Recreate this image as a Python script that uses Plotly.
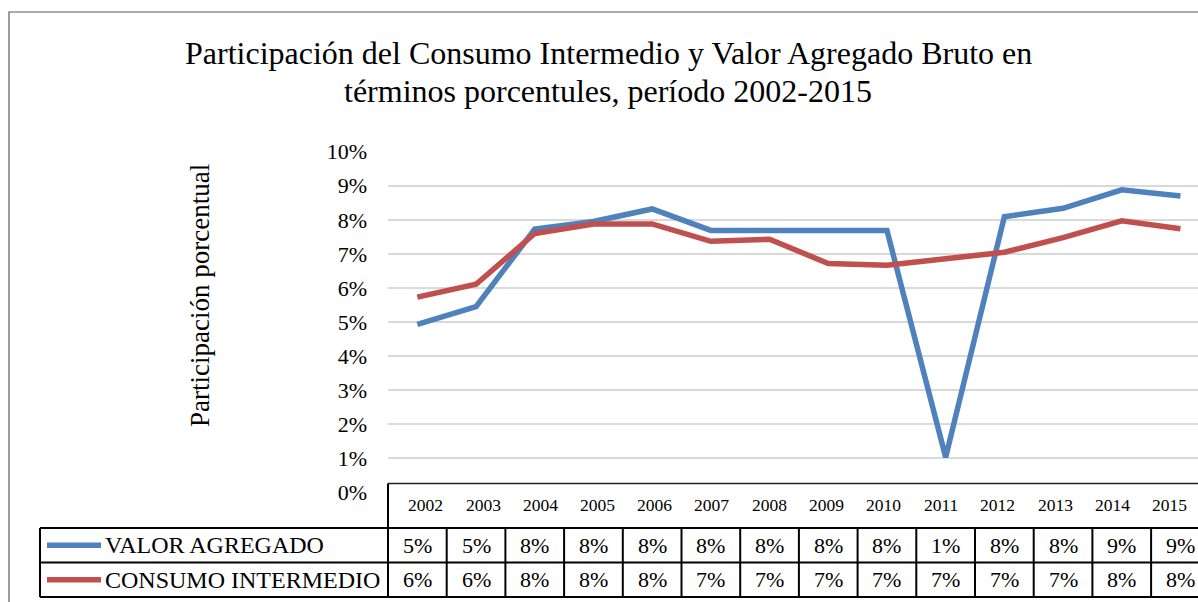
import plotly.graph_objects as go

W, H = 1198, 602

years = ["2002", "2003", "2004", "2005", "2006", "2007", "2008",
         "2009", "2010", "2011", "2012", "2013", "2014", "2015"]
valor_agregado = [0.0493, 0.0545, 0.0773, 0.0795, 0.0832, 0.0769, 0.0769,
                  0.0768, 0.0769, 0.0103, 0.0809, 0.0834, 0.0888, 0.0870]
consumo_intermedio = [0.0573, 0.0611, 0.0760, 0.0788, 0.0788, 0.0737, 0.0743,
                      0.0672, 0.0667, 0.0687, 0.0705, 0.0748, 0.0797, 0.0774]
series_names = ["VALOR AGREGADO", "CONSUMO INTERMEDIO"]
series_colors = ["#4F81BD", "#C0504D"]
title_lines = ["Participación del Consumo Intermedio y Valor Agregado Bruto en",
               "términos porcentules, período 2002-2015"]
y_title = "Participación porcentual"

FONT = "Liberation Serif, Times New Roman, serif"

def px(x):
    return x / W

def py(y):
    return 1 - y / H

# layout geometry (pixels of the 1198x602 design)
PLOT_L = 388
COL_W = 58.7
Y0_PIX, Y10_PIX = 492.4, 151.7
TBL_TOP, ROW1, ROW2, TBL_BOT = 483.5, 528, 562.5, 597
LEG_L = 40
YEAR_X0, YEAR_STEP = 425.8, 57.2

x_end = -0.5 + (W - PLOT_L) / COL_W

fig = go.Figure()
for name, vals, col in zip(series_names, [valor_agregado, consumo_intermedio], series_colors):
    fig.add_trace(go.Scatter(x=list(range(len(years))), y=vals, mode="lines", name=name,
                             line=dict(color=col, width=5.5), showlegend=False,
                             hoverinfo="skip"))

shapes = []
# outer frame
shapes.append(dict(type="rect", xref="paper", yref="paper", x0=px(9), x1=1.05,
                   y0=-0.05, y1=py(12), line=dict(color="#5a5a5a", width=1.2),
                   fillcolor="rgba(0,0,0,0)", layer="above"))
# white header cell (covers 0% gridline)
shapes.append(dict(type="rect", xref="paper", yref="paper", x0=px(PLOT_L), x1=1.02,
                   y0=py(ROW1), y1=py(TBL_TOP), line=dict(width=0),
                   fillcolor="white", layer="above"))
line_style = dict(color="black", width=2)
shapes.append(dict(type="line", xref="paper", yref="paper", x0=px(PLOT_L), x1=1.02,
                   y0=py(TBL_TOP), y1=py(TBL_TOP), line=dict(color="#222", width=1.5), layer="above"))
shapes.append(dict(type="line", xref="paper", yref="paper", x0=px(PLOT_L), x1=px(PLOT_L),
                   y0=py(TBL_BOT), y1=py(TBL_TOP), line=line_style, layer="above"))
for yy in [ROW1, ROW2, TBL_BOT]:
    shapes.append(dict(type="line", xref="paper", yref="paper", x0=px(LEG_L), x1=1.02,
                       y0=py(yy), y1=py(yy), line=line_style, layer="above"))
shapes.append(dict(type="line", xref="paper", yref="paper", x0=px(LEG_L), x1=px(LEG_L),
                   y0=py(TBL_BOT), y1=py(ROW1), line=line_style, layer="above"))
for k in range(len(years) - 1):
    xp = px(PLOT_L + (k + 1) * COL_W)
    shapes.append(dict(type="line", xref="paper", yref="paper", x0=xp, x1=xp,
                       y0=py(TBL_BOT), y1=py(ROW1), line=line_style, layer="above"))

annotations = []
for i, t in enumerate(title_lines):
    annotations.append(dict(text=t, xref="paper", yref="paper", x=px(608), y=py(52.5 + 39 * i),
                            xanchor="center", yanchor="middle", showarrow=False,
                            font=dict(family=FONT, size=32, color="black")))
annotations.append(dict(text=y_title, xref="paper", yref="paper", x=px(200), y=py(296),
                        textangle=-90, xanchor="center", yanchor="middle", showarrow=False,
                        font=dict(family=FONT, size=27, color="black")))
for k, yr in enumerate(years):
    annotations.append(dict(text=yr, xref="paper", yref="paper",
                            x=px(YEAR_X0 + k * YEAR_STEP), y=py(505),
                            xanchor="center", yanchor="middle", showarrow=False,
                            font=dict(family=FONT, size=17.5, color="black")))
rows_y = [(ROW1 + ROW2) / 2, (ROW2 + TBL_BOT) / 2]
for r, (name, vals, col) in enumerate(zip(series_names, [valor_agregado, consumo_intermedio], series_colors)):
    yc = rows_y[r]
    shapes.append(dict(type="line", xref="paper", yref="paper", x0=px(47), x1=px(101),
                       y0=py(yc), y1=py(yc), line=dict(color=col, width=5.5), layer="above"))
    annotations.append(dict(text=name, xref="paper", yref="paper", x=px(103), y=py(yc),
                            xanchor="left", yanchor="middle", showarrow=False,
                            font=dict(family=FONT, size=24, color="black")))
    for k, v in enumerate(vals):
        annotations.append(dict(text=f"{round(v * 100)}%", xref="paper", yref="paper",
                                x=px(PLOT_L + (k + 0.5) * COL_W), y=py(yc),
                                xanchor="center", yanchor="middle", showarrow=False,
                                font=dict(family=FONT, size=22, color="black")))

fig.update_layout(
    width=W, height=H, autosize=False,
    margin=dict(l=0, r=0, t=0, b=0, pad=0, autoexpand=False),
    paper_bgcolor="white", plot_bgcolor="white",
    font=dict(family=FONT, color="black"),
    xaxis=dict(domain=[px(PLOT_L), 1], range=[-0.5, x_end], showgrid=False,
               showticklabels=False, zeroline=False, showline=False, ticks="",
               automargin=False),
    yaxis=dict(domain=[py(Y0_PIX), py(Y10_PIX)], range=[0, 0.10], dtick=0.01,
               tickformat=".0%", showgrid=True, gridcolor="#D9D9D9", gridwidth=2,
               zeroline=False, showline=False, ticks="", ticklabelstandoff=20,
               automargin=False,
               tickfont=dict(family=FONT, size=22, color="black")),
    shapes=shapes, annotations=annotations,
)

fig.write_html("out.html", config={"displayModeBar": False},
               post_script="document.body.style.margin='0';document.body.style.overflow='hidden';")
